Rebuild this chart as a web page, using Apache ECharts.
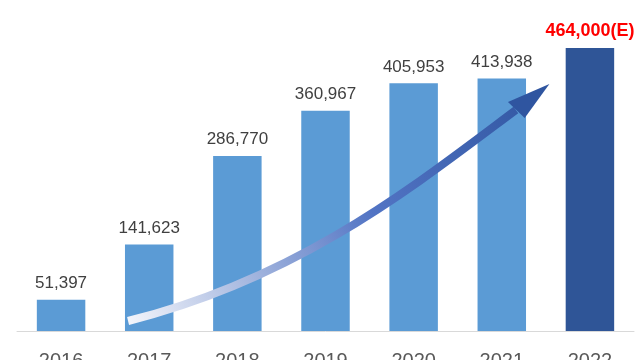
<!DOCTYPE html>
<html>
<head>
<meta charset="utf-8">
<script src="https://cdn.jsdelivr.net/npm/echarts@6/dist/echarts.min.js"></script>
<style>
html,body{margin:0;padding:0;background:#fff;}
#chart{width:640px;height:360px;}
</style>
</head>
<body>
<div id="chart"></div>
<script>
// ---- data ----
const years = ['2016', '2017', '2018', '2019', '2020', '2021', '2022'];
const values = [51397, 141623, 286770, 360967, 405953, 413938, 464000];
const estimateFlags = [false, false, false, false, false, false, true];

// decorative trend arrow, expressed in data space: [category position, value]
const arrowStart = [0.76, 16400];
const arrowCtrl1 = [2.71, 86900];
const arrowCtrl2 = [4.02, 239300];
const arrowEnd = [5.16, 362300];
const arrowTip = [5.54, 404900];
const arrowWing1 = [5.07, 375400];
const arrowWing2 = [5.26, 349200];

const BAR = '#5b9bd5';
const BAR_EST = '#2f5597';

const chart = echarts.init(document.getElementById('chart'), null, {renderer: 'canvas'});

const seriesData = values.map((v, i) => {
  if (estimateFlags[i]) {
    return {
      value: v,
      itemStyle: {color: BAR_EST},
      label: {
        color: '#ff0000',
        fontWeight: 'bold',
        fontSize: 18,
        distance: 8,
        formatter: (p) => p.value.toLocaleString('en-US') + '(E)'
      }
    };
  }
  return {value: v};
});

chart.setOption({
  animation: false,
  backgroundColor: '#ffffff',
  grid: {left: 17, right: 6, top: 26, bottom: 29, containLabel: false, outerBoundsMode: 'none'},
  xAxis: {
    type: 'category',
    data: years,
    axisLine: {show: true, lineStyle: {color: '#d9d9d9', width: 1}},
    axisTick: {show: false},
    axisLabel: {
      color: '#595959',
      fontSize: 20,
      fontFamily: 'Liberation Sans',
      margin: 20
    }
  },
  yAxis: {
    type: 'value',
    min: 0,
    max: 500000,
    show: false,
    splitLine: {show: false}
  },
  series: [{
    type: 'bar',
    data: seriesData,
    barWidth: '55%',
    itemStyle: {color: BAR},
    label: {
      show: true,
      position: 'top',
      distance: 8,
      color: '#404040',
      fontSize: 17,
      fontFamily: 'Liberation Sans',
      formatter: (p) => p.value.toLocaleString('en-US')
    }
  }]
});

function toPx(pt) {
  const a = chart.convertToPixel({gridIndex: 0}, [0, pt[1]]);
  const x0 = chart.convertToPixel({gridIndex: 0}, [0, 0])[0];
  const x6 = chart.convertToPixel({gridIndex: 0}, [years.length - 1, 0])[0];
  const x = x0 + (x6 - x0) * pt[0] / (years.length - 1);
  return [x, a[1]];
}

const s = toPx(arrowStart), c1 = toPx(arrowCtrl1), c2 = toPx(arrowCtrl2),
      e = toPx(arrowEnd), t = toPx(arrowTip), w1 = toPx(arrowWing1), w2 = toPx(arrowWing2);

chart.setOption({
  graphic: [
    {
      type: 'bezierCurve',
      shape: {x1: s[0], y1: s[1], cpx1: c1[0], cpy1: c1[1], cpx2: c2[0], cpy2: c2[1], x2: e[0], y2: e[1]},
      style: {
        fill: null,
        lineWidth: 8,
        lineCap: 'butt',
        stroke: {
          type: 'linear', global: true,
          x: s[0], y: s[1], x2: t[0], y2: t[1],
          colorStops: [
            {offset: 0, color: '#f3f5fb'},
            {offset: 0.3, color: '#9aaedb'},
            {offset: 0.55, color: '#5274c4'},
            {offset: 1, color: '#2f55a0'}
          ]
        }
      },
      z: 100
    },
    {
      type: 'polygon',
      shape: {points: [t, w1, w2]},
      style: {fill: '#2f55a0'},
      z: 101
    }
  ]
});
</script>
</body>
</html>
